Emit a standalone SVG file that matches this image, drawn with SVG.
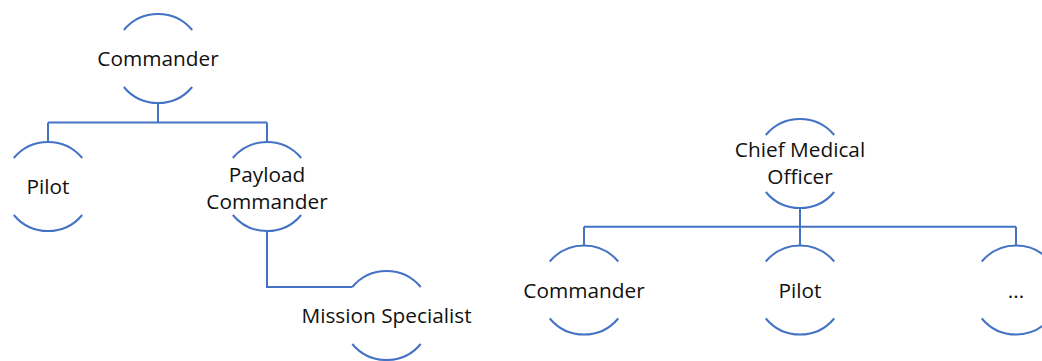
<svg xmlns="http://www.w3.org/2000/svg" xmlns:xlink="http://www.w3.org/1999/xlink" width="1042" height="361" viewBox="0 0 1042 361">
<style>
.arc{fill:none;stroke:#4472C4;stroke-width:2}
.con{fill:none;stroke:#4472C4;stroke-width:2}
.t{font-family:"Open Sans","Noto Sans",sans-serif;font-size:20.8px;fill:#111;text-anchor:middle}
</style>
<defs>
<g id="ring">
<path class="arc" d="M-34.2,-28.5 A44.5,44.5 0 0 1 34.2,-28.5"/>
<path class="arc" d="M-34.2,28.5 A44.5,44.5 0 0 0 34.2,28.5"/>
</g>
</defs>
<rect width="1042" height="361" fill="#fff"/>
<g id="connectors">
<path class="con" d="M158,103 V122.5 M48,122.5 H267 M48,122.5 V142 M267,122.5 V142"/>
<path class="con" d="M267,231 V287 H352.3"/>
<path class="con" d="M800,208 V226.7 M584,226.7 H1016 M584,226.7 V245.5 M800,226.7 V245.5 M1016,226.7 V245.5"/>
</g>
<g id="n1"><use xlink:href="#ring" x="158" y="58.5"/><text class="t" x="158" y="65.5">Commander</text></g>
<g id="n2"><use xlink:href="#ring" x="48" y="186.5"/><text class="t" x="48" y="194">Pilot</text></g>
<g id="n3"><use xlink:href="#ring" x="267" y="186.5"/><text class="t" x="267" y="181.5">Payload</text><text class="t" x="267" y="208.5">Commander</text></g>
<g id="n4"><use xlink:href="#ring" x="386.5" y="315.5"/><text class="t" x="386.5" y="323">Mission Specialist</text></g>
<g id="n5"><use xlink:href="#ring" x="800" y="163.5"/><text class="t" x="800" y="157">Chief Medical</text><text class="t" x="800" y="184">Officer</text></g>
<g id="n6"><use xlink:href="#ring" x="584" y="290"/><text class="t" x="584" y="297.5">Commander</text></g>
<g id="n7"><use xlink:href="#ring" x="800" y="290"/><text class="t" x="800" y="297.5">Pilot</text></g>
<g id="n8"><use xlink:href="#ring" x="1016" y="290"/><text class="t" x="1016" y="297.5">...</text></g>
</svg>
